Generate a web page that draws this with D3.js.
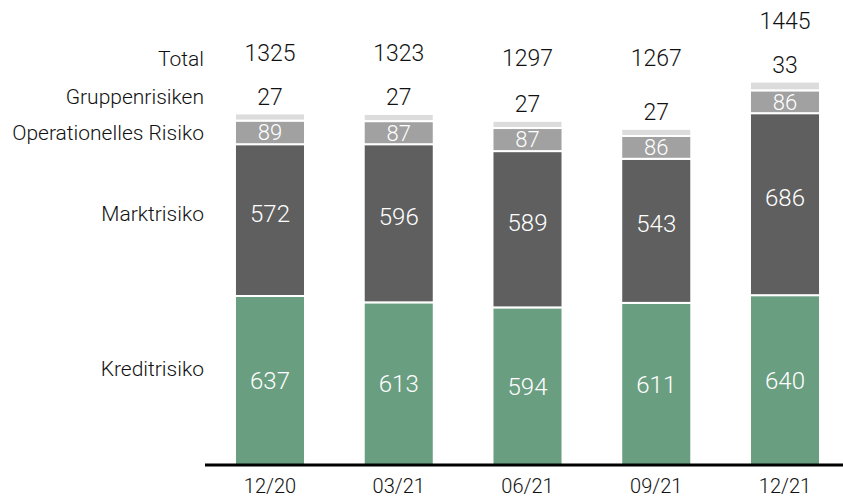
<!DOCTYPE html>
<html>
<head>
<meta charset="utf-8">
<script src="https://cdn.jsdelivr.net/npm/d3@7"></script>
<style>
  body { margin: 0; background: #fff; }
  text { font-family: "Roboto", "Liberation Sans", sans-serif; font-weight: 300; }
</style>
</head>
<body>
<svg id="chart" width="843" height="497"></svg>
<script>
// data
const categories = ["12/20", "03/21", "06/21", "09/21", "12/21"];
const kredit = [637, 613, 594, 611, 640];
const markt = [572, 596, 589, 543, 686];
const operational = [89, 87, 87, 86, 86];
const gruppen = [27, 27, 27, 27, 33];
const totals = [1325, 1323, 1297, 1267, 1445];

const seriesNames = ["Kreditrisiko", "Marktrisiko", "Operationelles Risiko", "Gruppenrisiken"];
const seriesColors = ["#6a9e81", "#5f5f5f", "#a1a1a1", "#dcdcdc"];

const svg = d3.select("#chart");
const baseY = 465;

let rows = categories.map((c, i) => ({
    cat: c,
    Kreditrisiko: kredit[i],
    Marktrisiko: markt[i],
    "Operationelles Risiko": operational[i],
    Gruppenrisiken: gruppen[i],
    total: totals[i]
}));

const x = d3.scaleBand()
    .domain(categories)
    .range([206, 849])
    .paddingInner(0.456)
    .paddingOuter(0.225);

const y = d3.scaleLinear()
    .domain([0, 1500])
    .range([baseY, baseY - 398]);

const stacked = d3.stack().keys(seriesNames)(rows);

// bars
const layers = svg.selectAll("g.layer")
    .data(stacked)
    .enter().append("g")
    .attr("class", "layer")
    .attr("fill", (d, i) => seriesColors[i]);

layers.selectAll("rect")
    .data(d => d)
    .enter().append("rect")
    .attr("x", d => x(d.data.cat))
    .attr("width", x.bandwidth())
    .attr("y", d => y(d[1]))
    .attr("height", d => y(d[0]) - y(d[1]))
    .attr("stroke", "#fff")
    .attr("stroke-width", 2);

// label shift per layer, the original sits the market numbers a bit high
const shift = {"Kreditrisiko": 0, "Marktrisiko": -7, "Operationelles Risiko": 0};

// white labels inside the first three segments
stacked.slice(0, 3).forEach((layer) => {
    svg.append("g").selectAll("text")
        .data(layer)
        .enter().append("text")
        .attr("x", d => x(d.data.cat) + x.bandwidth() / 2)
        .attr("y", d => (y(d[0]) + y(d[1])) / 2 + shift[layer.key])
        .attr("dy", "0.36em")
        .attr("text-anchor", "middle")
        .attr("fill", "#fff")
        .style("font-size", layer.key == "Operationelles Risiko" ? "22px" : "24px")
        .text(d => d.data[layer.key]);
});

// group risk labels above the bars, totals above those
const topLayer = stacked[3];
topLayer.forEach((d) => {
    let cx = x(d.data.cat) + x.bandwidth() / 2;
    let gy = y(d[1]) - 17;
    let ty = Math.min(58, gy - 44);
    svg.append("text")
        .attr("x", cx).attr("y", gy).attr("dy", "0.36em")
        .attr("text-anchor", "middle").attr("fill", "#111")
        .style("font-size", "23px")
        .text(d.data.Gruppenrisiken);
    svg.append("text")
        .attr("x", cx).attr("y", ty).attr("dy", "0.36em")
        .attr("text-anchor", "middle").attr("fill", "#111")
        .style("font-size", "23px")
        .text(d.data.total);
});

// row labels on the left, next to the first bar
const first = rows[0];
const leftLabels = [
    {name: "Total", y: 58},
    {name: "Gruppenrisiken", y: y(first.total) - 17},
    {name: "Operationelles Risiko", y: (y(stacked[2][0][0]) + y(stacked[2][0][1])) / 2},
    {name: "Marktrisiko", y: (y(stacked[1][0][0]) + y(stacked[1][0][1])) / 2 - 7},
    {name: "Kreditrisiko", y: (y(stacked[0][0][0]) + y(stacked[0][0][1])) / 2 - 12}
];
svg.append("g").selectAll("text")
    .data(leftLabels)
    .enter().append("text")
    .attr("x", 204)
    .attr("y", d => d.y)
    .attr("dy", "0.36em")
    .attr("text-anchor", "end")
    .attr("fill", "#111")
    .style("font-size", "21px")
    .text(d => d.name);

// x axis
const xAxis = svg.append("g")
    .attr("transform", `translate(0,${baseY})`)
    .call(d3.axisBottom(x).tickSize(0).tickPadding(0));
xAxis.select(".domain").attr("stroke", "#000").attr("stroke-width", 3)
    .attr("d", "M205,0H843");
xAxis.selectAll(".tick text")
    .attr("dy", null)
    .attr("y", 28)
    .style("font-size", "20px")
    .style("font-family", "Roboto, 'Liberation Sans', sans-serif")
    .style("font-weight", 300)
    .attr("fill", "#111");
</script>
</body>
</html>
